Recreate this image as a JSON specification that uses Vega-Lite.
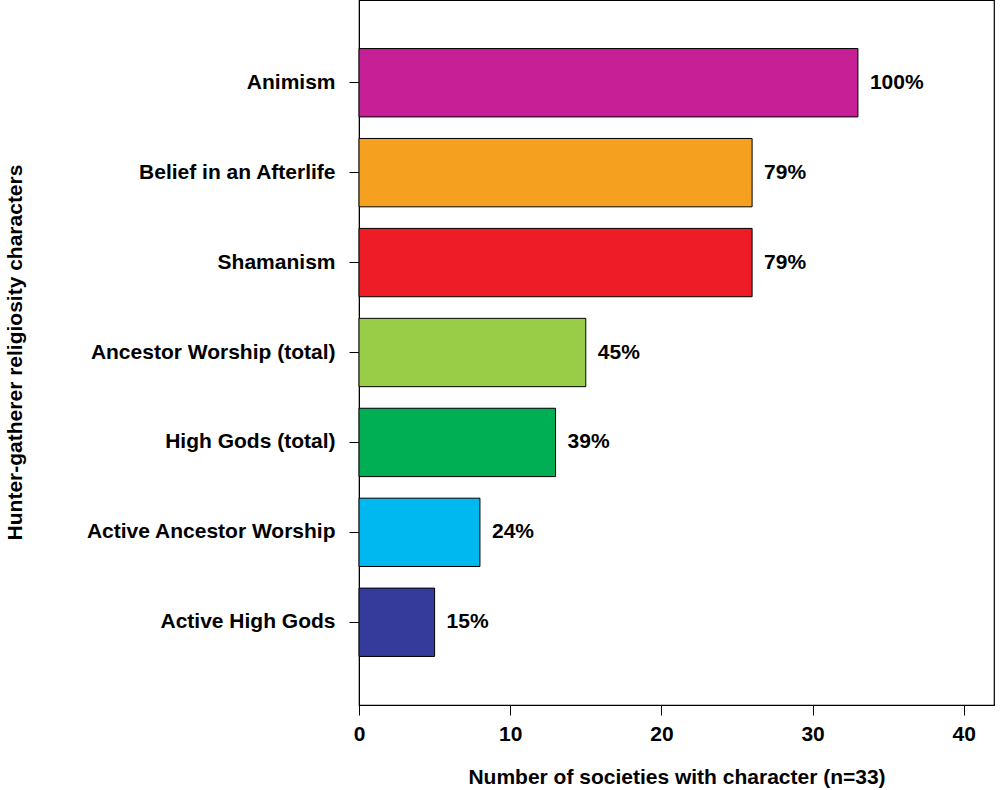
{
  "$schema": "https://vega.github.io/schema/vega-lite/v6.json",
  "width": 635,
  "height": 705,
  "autosize": {"type": "none"},
  "padding": {"left": 359, "top": 0, "right": 8, "bottom": 85},
  "background": "white",
  "config": {
    "view": {"stroke": "black", "strokeWidth": 1.2},
    "font": "Liberation Sans",
    "axis": {
      "labelFont": "Liberation Sans",
      "titleFont": "Liberation Sans",
      "labelFontWeight": "bold",
      "titleFontWeight": "bold",
      "labelColor": "black",
      "titleColor": "black",
      "domainColor": "black",
      "tickColor": "black",
      "grid": false,
      "labelFontSize": 21,
      "titleFontSize": 21,
      "tickSize": 10
    }
  },
  "data": {
    "values": [
      {"character": "Animism", "count": 33, "pct": "100%", "color": "#C71F96"},
      {"character": "Belief in an Afterlife", "count": 26, "pct": "79%", "color": "#F5A01F"},
      {"character": "Shamanism", "count": 26, "pct": "79%", "color": "#EE1C27"},
      {"character": "Ancestor Worship (total)", "count": 15, "pct": "45%", "color": "#9ACD47"},
      {"character": "High Gods (total)", "count": 13, "pct": "39%", "color": "#00AE53"},
      {"character": "Active Ancestor Worship", "count": 8, "pct": "24%", "color": "#00B8F0"},
      {"character": "Active High Gods", "count": 5, "pct": "15%", "color": "#353B9A"}
    ]
  },
  "encoding": {
    "y": {
      "field": "character",
      "type": "nominal",
      "sort": null,
      "scale": {"paddingInner": 0.24, "paddingOuter": 0.54},
      "axis": {"title": "Hunter-gatherer religiosity characters", "labelPadding": 14, "labelLimit": 400, "titleX": -334, "titleY": 352, "titleAnchor": "middle"}
    },
    "x": {
      "field": "count",
      "type": "quantitative",
      "scale": {"domain": [0, 42], "nice": false},
      "axis": {"title": "Number of societies with character (n=33)", "values": [0, 10, 20, 30, 40], "labelFlush": false, "labelPadding": 8, "titlePadding": 22}
    }
  },
  "layer": [
    {
      "mark": {"type": "bar", "stroke": "black", "strokeWidth": 1},
      "encoding": {"color": {"field": "color", "type": "nominal", "scale": null}}
    },
    {
      "mark": {"type": "text", "align": "left", "baseline": "middle", "dx": 12, "fontSize": 21, "fontWeight": "bold", "font": "Liberation Sans"},
      "encoding": {"text": {"field": "pct"}}
    }
  ]
}
